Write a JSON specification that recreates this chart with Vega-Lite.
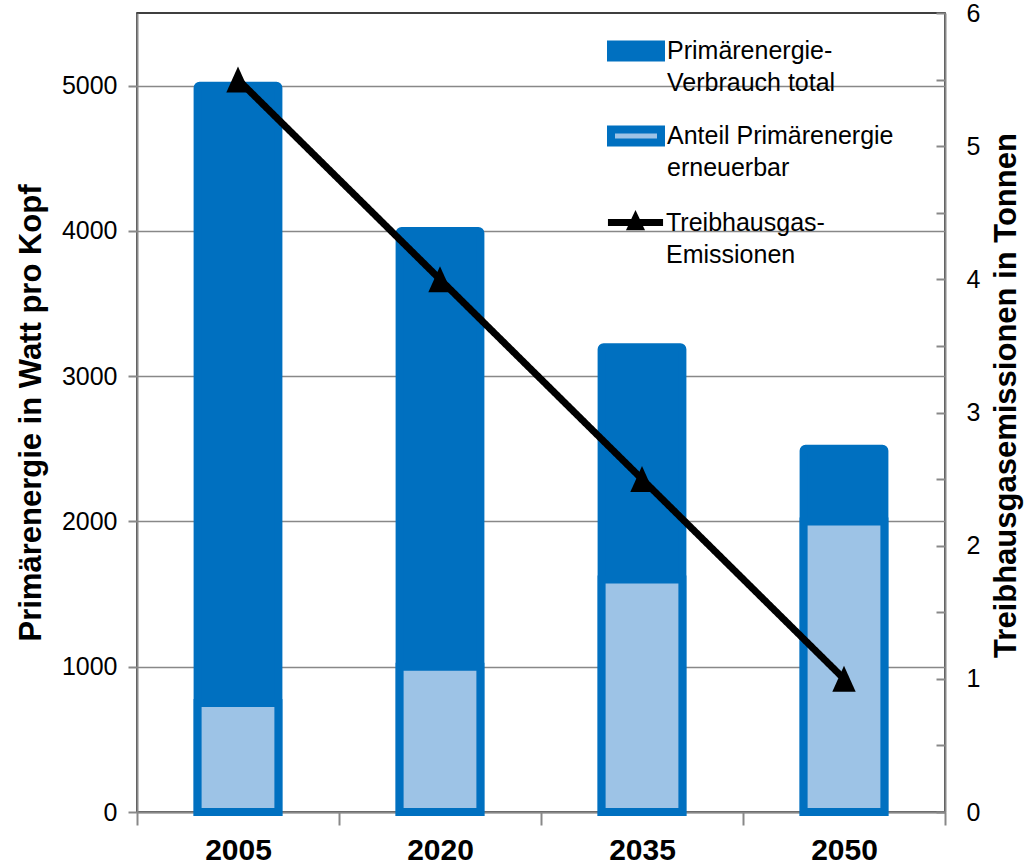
{
  "$schema": "https://vega.github.io/schema/vega-lite/v6.json",
  "width": 808,
  "height": 799,
  "autosize": {"type": "none"},
  "padding": {"left": 137, "top": 13, "right": 82, "bottom": 52},
  "background": "white",
  "config": {
    "font": "Liberation Sans",
    "view": {"stroke": "black", "strokeWidth": 1.5},
    "style": {"guide-label": {"lineHeight": 32}},
    "axis": {
      "domainColor": "#888888",
      "domainWidth": 2,
      "tickColor": "#888888",
      "tickWidth": 2,
      "labelFont": "Liberation Sans",
      "labelFontSize": 25,
      "labelColor": "#000000",
      "titleFont": "Liberation Sans",
      "titleFontSize": 31,
      "titleFontWeight": "bold",
      "titleColor": "#000000",
      "gridColor": "#888888",
      "gridWidth": 1.5
    },
    "legend": {
      "labelFont": "Liberation Sans",
      "labelFontSize": 25,
      "labelColor": "#000000",
      "labelLimit": 500,
      "labelBaseline": "top",
      "symbolSize": 3364,
      "padding": 0,
      "labelOffset": -2,
      "orient": "none",
      "title": null
    }
  },
  "data": {
    "values": [
      {"year": "2005", "total": 5000, "renewable": 750, "emissions": 5.5},
      {"year": "2020", "total": 4000, "renewable": 1000, "emissions": 4.0},
      {"year": "2035", "total": 3200, "renewable": 1600, "emissions": 2.5},
      {"year": "2050", "total": 2500, "renewable": 2000, "emissions": 1.0}
    ]
  },
  "encoding": {
    "x": {
      "field": "year",
      "type": "nominal",
      "scale": {"paddingInner": 0, "paddingOuter": 0},
      "axis": {
        "title": null,
        "labelAngle": 0,
        "labelFontWeight": "bold",
        "labelFontSize": 30,
        "tickBand": "extent",
        "tickExtra": true,
        "tickSize": 13,
        "labelPadding": 10
      }
    }
  },
  "layer": [
    {
      "layer": [
        {
          "mark": {"type": "bar", "width": {"band": 0.4}, "stroke": "#0070C0", "strokeWidth": 8, "cornerRadiusEnd": 2},
          "encoding": {
            "y": {
              "field": "total",
              "type": "quantitative",
              "scale": {"domain": [0, 5500], "nice": false},
              "axis": {"title": "Primärenergie in Watt pro Kopf", "orient": "left", "values": [0, 1000, 2000, 3000, 4000, 5000], "format": "d", "tickSize": 9, "labelPadding": 11, "titlePadding": 14, "grid": true}
            },
            "color": {
              "datum": "Primärenergie-Verbrauch total",
              "scale": {"domain": ["Primärenergie-Verbrauch total"], "range": ["#0070C0"]},
              "legend": {
                "title": null,
                "orient": "none",
                "legendX": 466,
                "legendY": -7,
                "symbolType": "M-0.862,0.19H0.862V0.638H-0.862Z",
                "symbolStrokeWidth": 8,
                "symbolStrokeColor": "#0070C0",
                "labelExpr": "['Primärenergie-', 'Verbrauch total']"
              }
            }
          }
        },
        {
          "mark": {"type": "bar", "width": {"band": 0.4}, "fill": "#9DC3E6", "strokeWidth": 8},
          "encoding": {
            "y": {
              "field": "renewable",
              "type": "quantitative",
              "scale": {"domain": [0, 5500], "nice": false},
              "axis": {"title": "Primärenergie in Watt pro Kopf", "orient": "left", "values": [0, 1000, 2000, 3000, 4000, 5000], "format": "d", "tickSize": 9, "labelPadding": 11, "titlePadding": 14, "grid": true}
            },
            "stroke": {
              "datum": "Anteil Primärenergie erneuerbar",
              "scale": {"domain": ["Anteil Primärenergie erneuerbar"], "range": ["#0070C0"]},
              "legend": {
                "title": null,
                "orient": "none",
                "legendX": 466,
                "legendY": 78,
                "symbolType": "M-0.862,0.19H0.862V0.638H-0.862Z",
                "symbolStrokeWidth": 8,
                "symbolFillColor": "#9DC3E6",
                "labelExpr": "['Anteil Primärenergie', 'erneuerbar']"
              }
            }
          }
        }
      ]
    },
    {
      "layer": [
        {
          "mark": {"type": "line", "strokeWidth": 7, "color": "#000000"},
          "encoding": {
            "y": {
              "field": "emissions",
              "type": "quantitative",
              "scale": {"domain": [0, 6], "nice": false},
              "axis": {"title": "Treibhausgasemissionen in Tonnen", "orient": "right", "values": [0, 0.5, 1, 1.5, 2, 2.5, 3, 3.5, 4, 4.5, 5, 5.5, 6], "labelExpr": "datum.value % 1 === 0 ? format(datum.value, 'd') : ''", "tickSize": -9, "labelPadding": 30, "grid": false, "titleAngle": 270, "titleBaseline": "top", "titlePadding": 12, "titleY": 382}
            },
            "strokeDash": {
              "datum": "Treibhausgas-Emissionen",
              "scale": {"domain": ["Treibhausgas-Emissionen"], "range": [[1, 0]]},
              "legend": {
                "title": null,
                "orient": "none",
                "legendX": 466,
                "legendY": 165,
                "symbolType": "M-0.95,0.414H0.95M-0.14,0.564L0,0.264L0.14,0.564Z",
                "symbolStrokeWidth": 7,
                "symbolStrokeColor": "#000000",
                "symbolFillColor": "#000000",
                "labelExpr": "['Treibhausgas-', 'Emissionen']"
              }
            }
          }
        },
        {
          "mark": {"type": "point", "shape": "M0,-1L-0.9,1L0.9,1Z", "size": 676, "filled": true, "color": "#000000", "opacity": 1},
          "encoding": {
            "y": {
              "field": "emissions",
              "type": "quantitative",
              "scale": {"domain": [0, 6], "nice": false},
              "axis": {"title": "Treibhausgasemissionen in Tonnen", "orient": "right", "values": [0, 0.5, 1, 1.5, 2, 2.5, 3, 3.5, 4, 4.5, 5, 5.5, 6], "labelExpr": "datum.value % 1 === 0 ? format(datum.value, 'd') : ''", "tickSize": -9, "labelPadding": 30, "grid": false, "titleAngle": 270, "titleBaseline": "top", "titlePadding": 12, "titleY": 382}
            }
          }
        }
      ]
    }
  ],
  "resolve": {"scale": {"y": "independent"}}
}
